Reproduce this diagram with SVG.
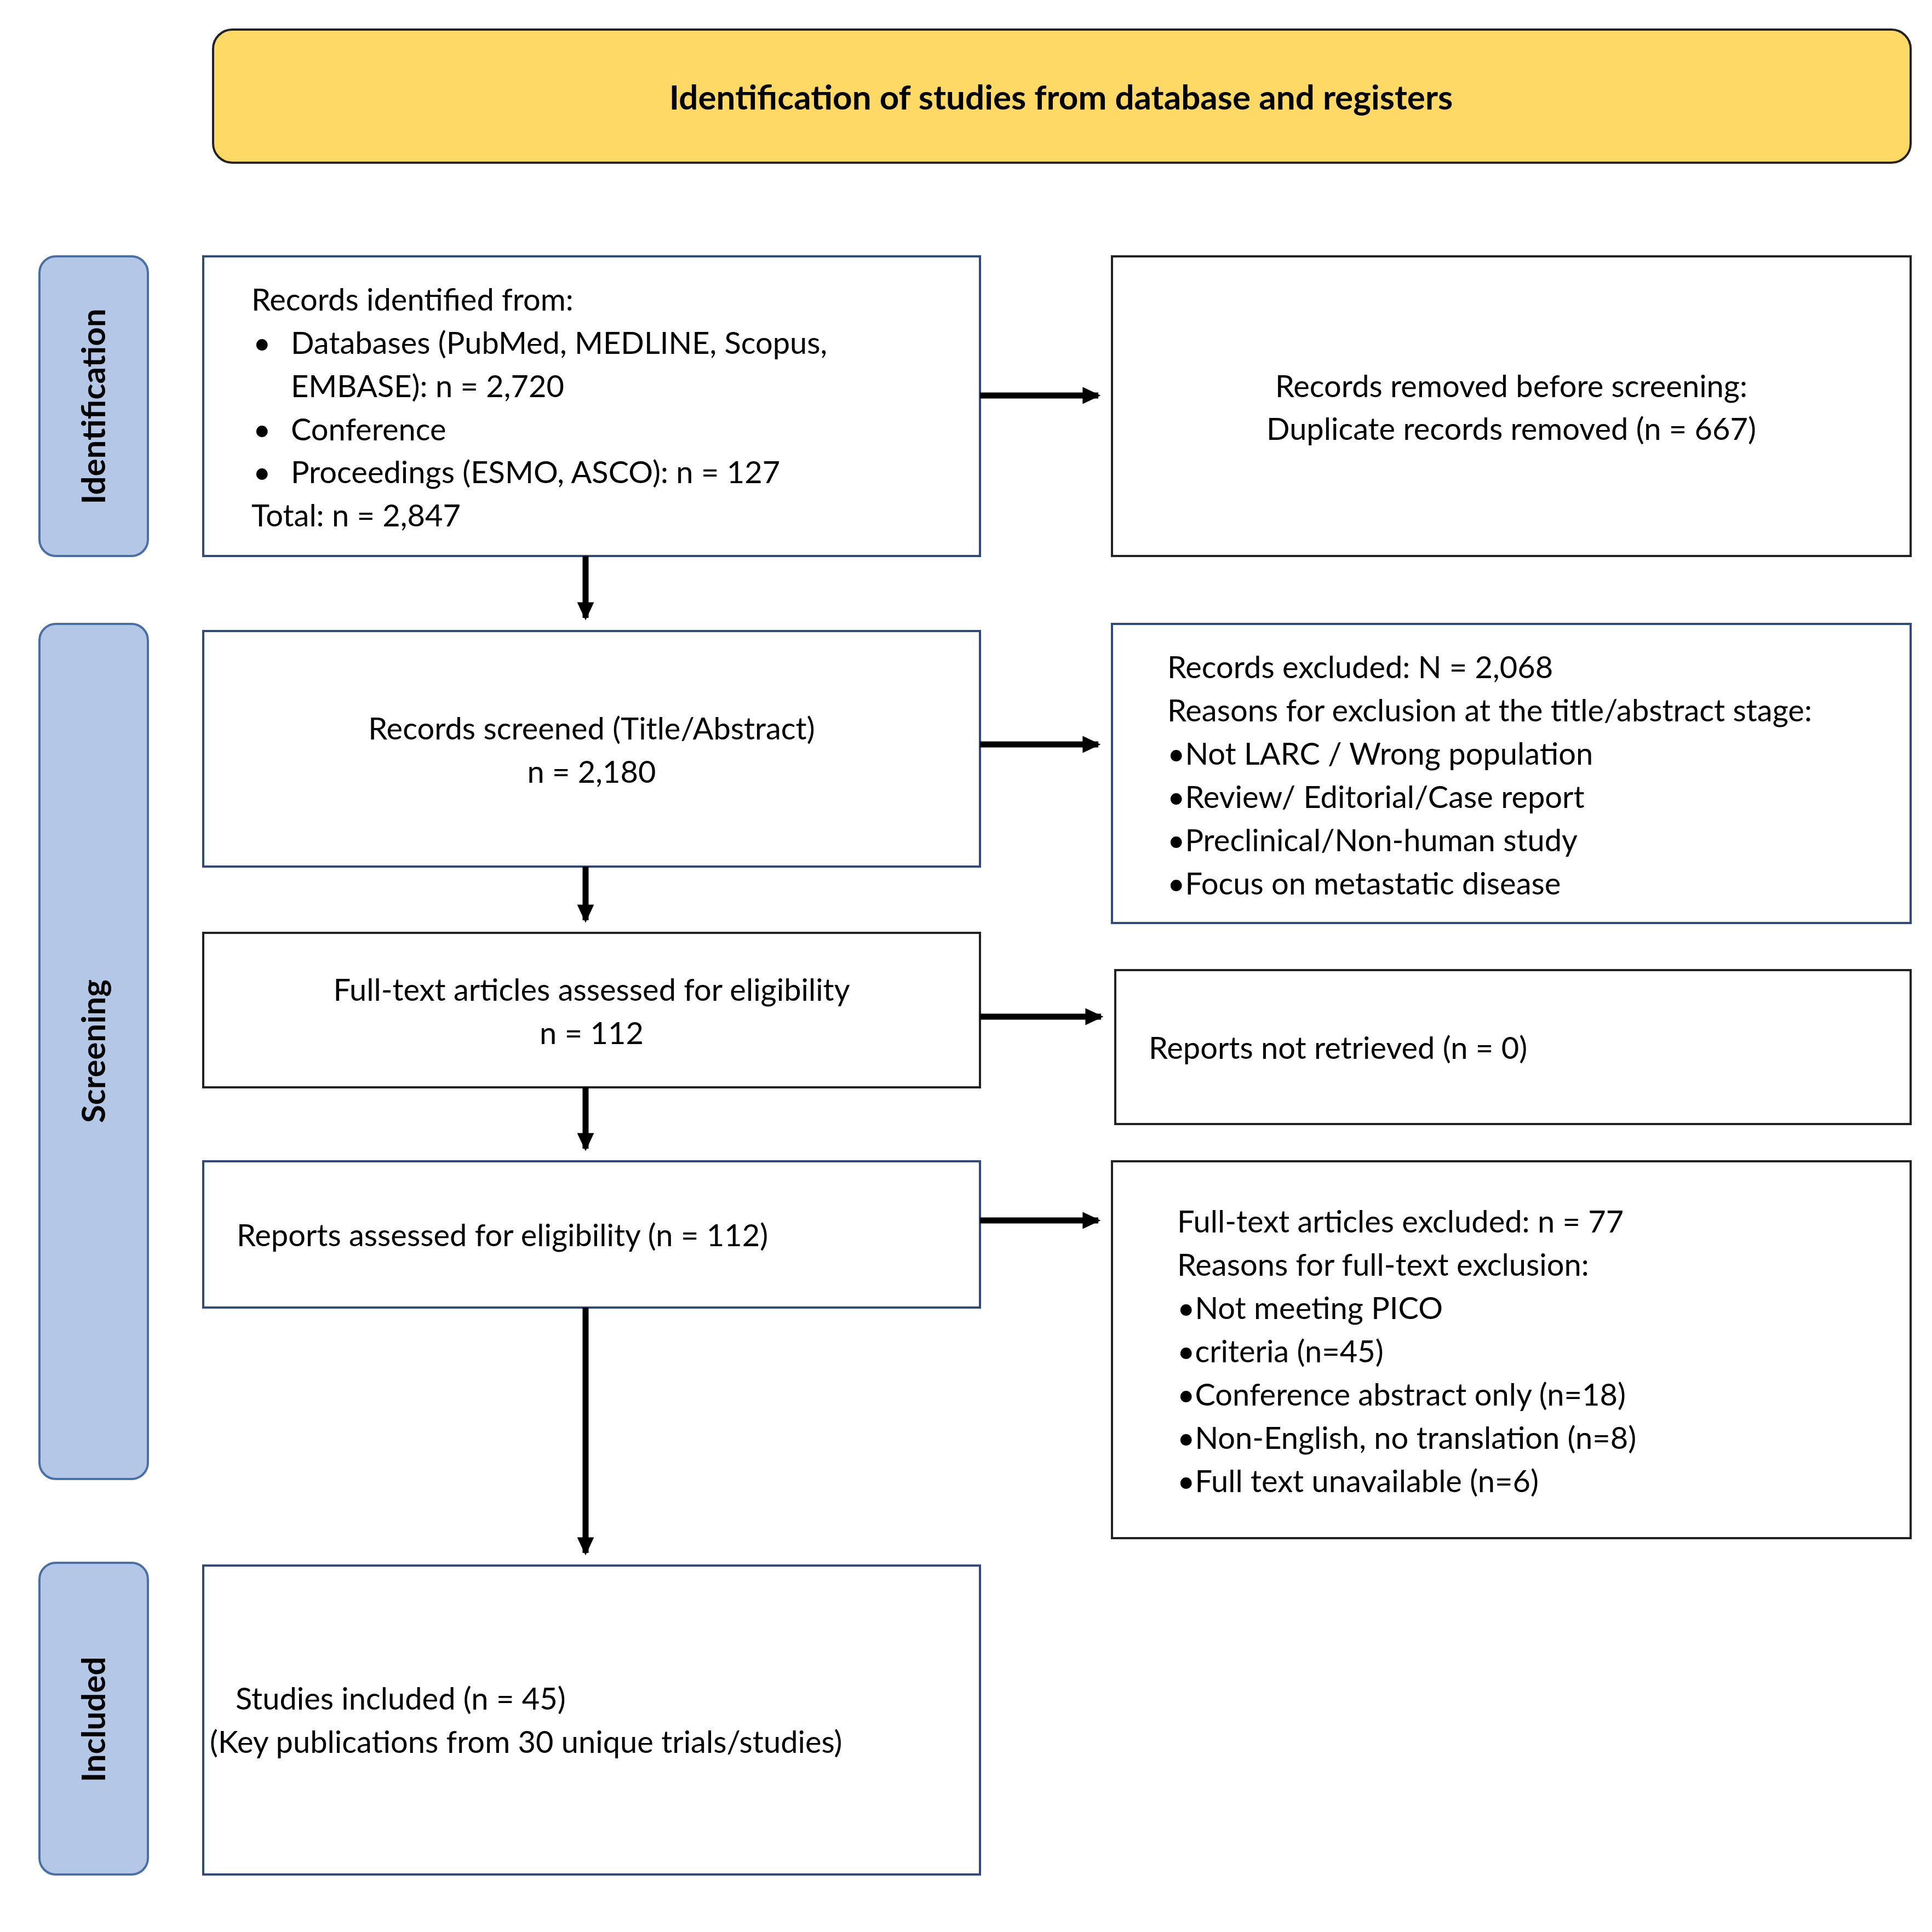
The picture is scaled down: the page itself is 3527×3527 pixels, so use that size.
<svg xmlns="http://www.w3.org/2000/svg" width="3527" height="3527" viewBox="0 0 3527 3527">
<style>
text{font-family:Lato,"Open Sans","Liberation Sans",sans-serif;font-size:56px;fill:#000}
.c{text-anchor:middle}
.lb{fill:#fff;stroke:#2F4B7C;stroke-width:4}
.rb{fill:#fff;stroke:#222;stroke-width:4}
.side{fill:#B4C7E7;stroke:#4A6FA5;stroke-width:4}
.st{font-weight:bold;font-size:60px;text-anchor:middle}
.ln{stroke:#000;stroke-width:11;fill:none;marker-end:url(#ah)}
</style>
<defs><marker id="ah" markerWidth="4" markerHeight="4" refX="2.6" refY="2" orient="auto"><path d="M0,0.6 L3,2 L0,3.4 Z" fill="#000"/></marker></defs>
<rect width="3527" height="3527" fill="#fff"/>
<g id="header"><rect x="389" y="54" width="3099" height="243" rx="35" fill="#FFD966" stroke="#222" stroke-width="4"/><text class="c" x="1937" y="200" style="font-weight:bold;font-size:62px">Identification of studies from database and registers</text></g>
<g id="side-identification"><rect class="side" x="72" y="468" width="198" height="547" rx="30"/><text class="st" transform="translate(192,742) rotate(-90)">Identification</text></g>
<g id="side-screening"><rect class="side" x="72" y="1139" width="198" height="1561" rx="30"/><text class="st" transform="translate(192,1919) rotate(-90)">Screening</text></g>
<g id="side-included"><rect class="side" x="72" y="2853" width="198" height="569" rx="30"/><text class="st" transform="translate(192,3139) rotate(-90)">Included</text></g>
<g id="records-identified"><rect class="lb" x="371" y="468" width="1418" height="547"/>
<text x="459" y="567">Records identified from:</text>
<text x="462" y="646">•</text><text x="531" y="646">Databases (PubMed, MEDLINE, Scopus,</text>
<text x="531" y="725">EMBASE): n = 2,720</text>
<text x="462" y="804">•</text><text x="531" y="804">Conference</text>
<text x="462" y="882">•</text><text x="531" y="882">Proceedings (ESMO, ASCO): n = 127</text>
<text x="459" y="961">Total: n = 2,847</text></g>
<g id="records-removed"><rect class="rb" x="2030" y="468" width="1458" height="547"/>
<text class="c" x="2759" y="725">Records removed before screening:</text>
<text class="c" x="2759" y="803">Duplicate records removed (n = 667)</text></g>
<g id="records-screened"><rect class="lb" x="371" y="1152" width="1418" height="430"/>
<text class="c" x="1080" y="1350">Records screened (Title/Abstract)</text>
<text class="c" x="1080" y="1429">n = 2,180</text></g>
<g id="records-excluded"><rect class="lb" x="2030" y="1139" width="1458" height="546"/>
<text x="2131" y="1238">Records excluded: N = 2,068</text>
<text x="2131" y="1317">Reasons for exclusion at the title/abstract stage:</text>
<text x="2131" y="1396">•Not LARC / Wrong population</text>
<text x="2131" y="1475">•Review/ Editorial/Case report</text>
<text x="2131" y="1554">•Preclinical/Non-human study</text>
<text x="2131" y="1633">•Focus on metastatic disease</text></g>
<g id="fulltext-assessed"><rect class="rb" x="371" y="1703" width="1418" height="282"/>
<text class="c" x="1080" y="1827">Full-text articles assessed for eligibility</text>
<text class="c" x="1080" y="1906">n = 112</text></g>
<g id="not-retrieved"><rect class="rb" x="2036" y="1771" width="1452" height="281"/>
<text x="2097" y="1933">Reports not retrieved (n = 0)</text></g>
<g id="reports-assessed"><rect class="lb" x="371" y="2120" width="1418" height="267"/>
<text x="432" y="2275">Reports assessed for eligibility (n = 112)</text></g>
<g id="fulltext-excluded"><rect class="rb" x="2030" y="2120" width="1458" height="688"/>
<text x="2149" y="2250">Full-text articles excluded: n = 77</text>
<text x="2149" y="2329">Reasons for full-text exclusion:</text>
<text x="2149" y="2408">•Not meeting PICO</text>
<text x="2149" y="2487">•criteria (n=45)</text>
<text x="2149" y="2566">•Conference abstract only (n=18)</text>
<text x="2149" y="2645">•Non-English, no translation (n=8)</text>
<text x="2149" y="2724">•Full text unavailable (n=6)</text></g>
<g id="studies-included"><rect class="lb" x="371" y="2858" width="1418" height="564"/>
<text x="430" y="3121">Studies included (n = 45)</text>
<text x="383" y="3200">(Key publications from 30 unique trials/studies)</text></g>
<g id="connectors">
<path class="ln" d="M1789,722 H2005"/>
<path class="ln" d="M1789,1359 H2005"/>
<path class="ln" d="M1789,1856 H2010"/>
<path class="ln" d="M1789,2228 H2005"/>
<path class="ln" d="M1069,1015 V1128"/>
<path class="ln" d="M1069,1582 V1680"/>
<path class="ln" d="M1069,1985 V2097"/>
<path class="ln" d="M1069,2387 V2835"/>
</g>
</svg>
